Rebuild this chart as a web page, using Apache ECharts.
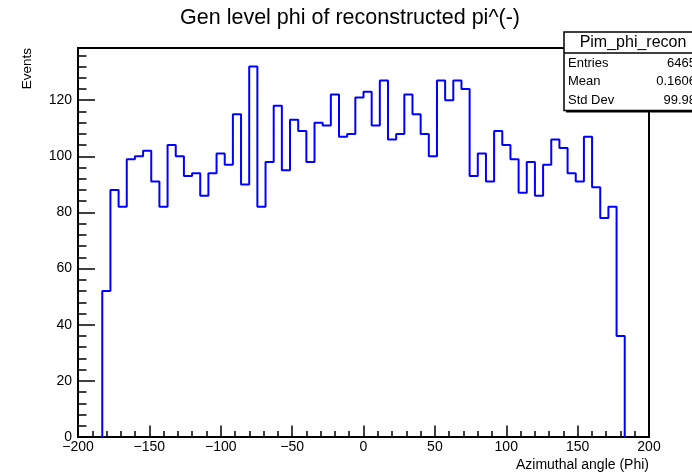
<!DOCTYPE html>
<html>
<head>
<meta charset="utf-8">
<title>Gen level phi of reconstructed pi^(-)</title>
<script src="https://cdn.jsdelivr.net/npm/echarts@6/dist/echarts.min.js"></script>
<style>
  html, body { margin: 0; padding: 0; background: #fff; }
  #chart { width: 692px; height: 474px; }
</style>
</head>
<body>
<div id="chart"></div>
<script>
// Histogram binning: 64 equal-width bins spanning the phi range
const binLow = -183;
const binHigh = 183;
const counts = [
  52, 88, 82, 99, 100, 102, 91, 82, 104, 100,
  93, 94, 86, 94, 101, 97, 115, 90, 132, 82,
  98, 118, 95, 113, 109, 98, 112, 111, 122, 107,
  108, 121, 123, 111, 127, 106, 108, 122, 115, 108,
  100, 127, 120, 127, 124, 93, 101, 91, 109, 104,
  99, 87, 98, 86, 97, 106, 103, 94, 91, 107,
  89, 78, 82, 36
];

// Axis ticks
const xTicks = [-200, -150, -100, -50, 0, 50, 100, 150, 200];
const yTicks = [0, 20, 40, 60, 80, 100, 120];
const yMax = 138.6;

// Statistics panel
const statsName = 'Pim_phi_recon';
const statsRows = [
  ['Entries', '6465'],
  ['Mean', '0.1606'],
  ['Std Dev', '99.98']
];

const FONT = '"Liberation Sans", Arial, Helvetica, sans-serif';

// Outline of the histogram: up from zero at the first edge, across each bin, down at the last edge
const binWidth = (binHigh - binLow) / counts.length;
const outline = [[binLow, 0]];
counts.forEach((c, i) => {
  const lo = binLow + i * binWidth;
  outline.push([lo, c]);
  outline.push([lo + binWidth, c]);
});
outline.push([binHigh, 0]);

const minus = v => String(v).replace('-', '\u2212');

const chart = echarts.init(document.getElementById('chart'), null, { renderer: 'canvas' });

const statsX = 564, statsY = 32, statsW = 140, headH = 21, rowH = 18.5;
const statsGraphics = [
  { type: 'rect', z: 10, shape: { x: statsX + 2, y: statsY + 2, width: statsW, height: headH + rowH * 3 + 2 },
    style: { fill: '#000' } },
  { type: 'rect', z: 11, shape: { x: statsX, y: statsY, width: statsW, height: headH + rowH * 3 + 2 },
    style: { fill: '#fff', stroke: '#000', lineWidth: 1.5 } },
  { type: 'line', z: 12, shape: { x1: statsX, y1: statsY + headH, x2: statsX + statsW, y2: statsY + headH },
    style: { stroke: '#000', lineWidth: 1.5 } },
  { type: 'text', z: 12, style: { x: 633, y: statsY + headH / 2 + 0.5, text: statsName, textAlign: 'center',
    textVerticalAlign: 'middle', font: '16px ' + FONT, fill: '#000' } }
];
statsRows.forEach((r, i) => {
  const cy = statsY + headH + rowH * (i + 0.5) + 1;
  statsGraphics.push({ type: 'text', z: 12, style: { x: statsX + 4, y: cy, text: r[0], textAlign: 'left',
    textVerticalAlign: 'middle', font: '13px ' + FONT, fill: '#000' } });
  statsGraphics.push({ type: 'text', z: 12, style: { x: 696, y: cy, text: r[1], textAlign: 'right',
    textVerticalAlign: 'middle', font: '13px ' + FONT, fill: '#000' } });
});

chart.setOption({
  animation: false,
  backgroundColor: '#fff',
  grid: {
    left: 78, right: 43, top: 48, bottom: 37,
    show: true, borderColor: '#000', borderWidth: 2, backgroundColor: 'transparent'
  },
  xAxis: {
    type: 'value',
    min: xTicks[0], max: xTicks[xTicks.length - 1], interval: 50,
    axisLine: { show: true, onZero: false, lineStyle: { color: '#000', width: 2 } },
    axisTick: { show: true, inside: true, length: 11.5, lineStyle: { color: '#000', width: 1.5 } },
    minorTick: { show: true, splitNumber: 5, length: 6, lineStyle: { color: '#000', width: 1.5 } },
    splitLine: { show: false },
    minorSplitLine: { show: false },
    axisLabel: {
      color: '#000', fontSize: 14, fontFamily: FONT, margin: 3,
      formatter: v => xTicks.includes(v) ? minus(v) : ''
    }
  },
  yAxis: {
    type: 'value',
    min: 0, max: yMax, interval: 20,
    axisLine: { show: true, onZero: false, lineStyle: { color: '#000', width: 2 } },
    axisTick: { show: true, inside: true, length: 17, lineStyle: { color: '#000', width: 1.5 } },
    minorTick: { show: true, splitNumber: 5, length: 8.5, lineStyle: { color: '#000', width: 1.5 } },
    splitLine: { show: false },
    minorSplitLine: { show: false },
    axisLabel: {
      color: '#000', fontSize: 14, fontFamily: FONT, margin: 6, showMaxLabel: false,
      formatter: v => yTicks.includes(v) ? String(v) : ''
    }
  },
  series: [{
    type: 'line',
    data: outline,
    symbol: 'none',
    lineStyle: { color: '#0000ff', width: 2 },
    z: 5
  }],
  graphic: [
    { type: 'text', style: { x: 350, y: 18, text: 'Gen level phi of reconstructed pi^(-)', textAlign: 'center',
      textVerticalAlign: 'middle', font: '21.5px ' + FONT, fill: '#000' } },
    { type: 'text', rotation: Math.PI / 2, x: 27.5, y: 48,
      style: { x: 0, y: 0, text: 'Events', textAlign: 'right', textVerticalAlign: 'middle',
        font: '13.5px ' + FONT, fill: '#000' } },
    { type: 'text', style: { x: 649, y: 465, text: 'Azimuthal angle (Phi)', textAlign: 'right',
      textVerticalAlign: 'middle', font: '14px ' + FONT, fill: '#000' } }
  ].concat(statsGraphics)
});
</script>
</body>
</html>
